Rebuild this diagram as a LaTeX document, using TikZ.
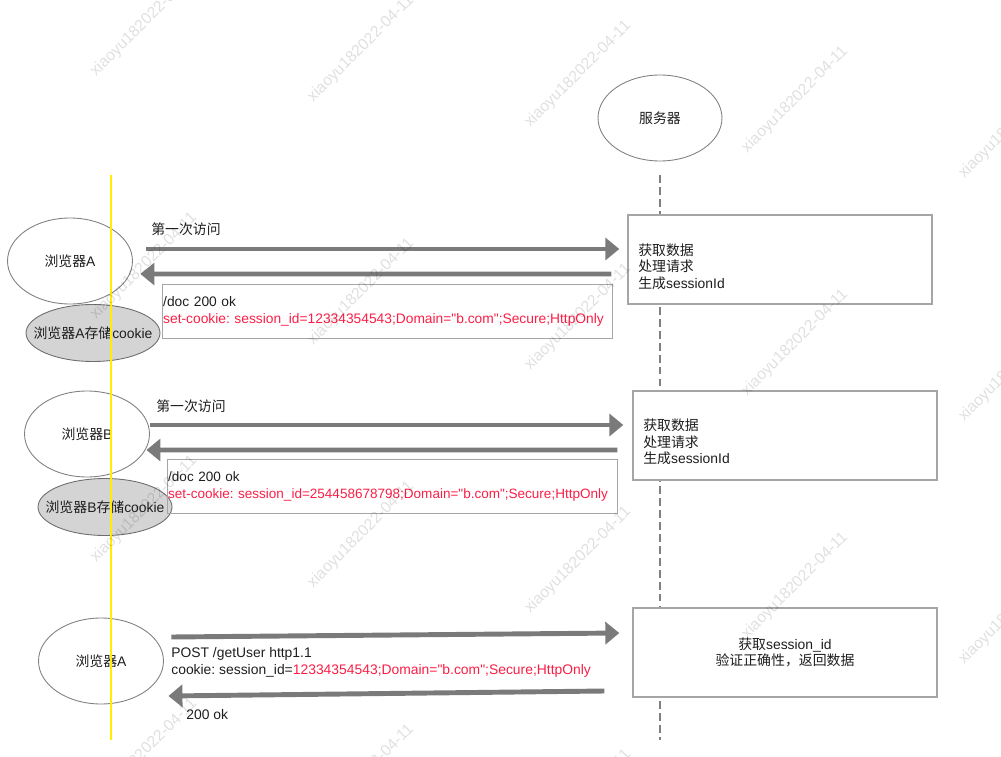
\documentclass[tikz,border=0pt]{standalone}
\usepackage{fontspec}
\newfontfamily\latinfont{Liberation Sans}
\newfontfamily\cjk{Noto Sans CJK SC}
\newcommand{\zh}[1]{{\cjk #1}}
\usetikzlibrary{arrows.meta, positioning, calc, shapes.geometric}
\definecolor{linegray}{RGB}{128,128,128}
\definecolor{boxgray}{RGB}{165,165,165}
\definecolor{arrowgray}{RGB}{122,122,122}
\definecolor{storefill}{RGB}{212,212,212}
\definecolor{cookiered}{RGB}{250,30,70}
\definecolor{markyellow}{RGB}{255,238,0}
\definecolor{textdark}{RGB}{30,30,30}

\begin{document}
\begin{tikzpicture}[
    x=0.02cm, y=-0.02cm,
    every node/.style={font=\latinfont\fontsize{7.9}{9.4}\selectfont\frenchspacing, text=textdark},
    actor/.style={
        ellipse,
        draw=linegray,
        line width=0.5pt,
        minimum width=2.5cm,
        minimum height=1.72cm,
        inner sep=0pt
    },
    store/.style={
        ellipse,
        draw=linegray!85!black,
        fill=storefill,
        line width=0.5pt,
        minimum width=2.68cm,
        minimum height=1.14cm,
        inner sep=0pt
    },
    procbox/.style={
        rectangle,
        draw=boxgray,
        line width=0.8pt,
        minimum width=6.08cm,
        minimum height=1.78cm
    },
    respbox/.style={
        rectangle,
        draw=boxgray,
        line width=0.8pt,
        minimum width=9cm,
        minimum height=1.08cm,
        text width=8.98cm,
        align=left,
        inner xsep=0.01cm,
        inner ysep=0pt,
        font=\latinfont\fontsize{7.85}{9.9}\selectfont\frenchspacing,
        execute at begin node={\hyphenpenalty=10000}
    },
    msgarrow/.style={
        draw=arrowgray,
        line width=2.8pt,
        -{Triangle[length=0.28cm, width=0.44cm]}
    },
    msglabel/.style={anchor=west, inner sep=0pt},
    lifeline/.style={draw=linegray, line width=0.6pt, dash pattern=on 4.5pt off 2.3pt},
    wmark/.style={
        anchor=base west,
        rotate=45,
        inner sep=0pt,
        font=\latinfont\fontsize{9}{9}\selectfont,
        text=black,
        text opacity=0.12
    }
]

\useasboundingbox (0,0) rectangle (1001,757);

% ==================== SERVER ====================

\node (srv) [actor, minimum width=2.48cm] at (660,118) {\zh{服务器}};
\coordinate (lifeend) at (660,740);
\draw [lifeline] ([shift={(0,14)}]srv.south) -- (lifeend);

% ==================== BROWSER A: FIRST VISIT ====================

\node (brA) [actor] at (70,261) {\zh{浏览器}A};
\node (storeA) [store] at (93,333) {\makebox[0pt]{\zh{浏览器}A\zh{存储}cookie}};
\node (srv1) [procbox, fill=white] at (780,259.5) {};
\node (srv1txt) [msglabel, align=left] at (638,266.5) {\zh{获取数据}\\\zh{处理请求}\\\zh{生成}sessionId};
\node (resp1) [respbox, anchor=north west] at (162,284) {/doc 200 ok\\\textcolor{cookiered}{set-cookie: session\_id=12334354543;Domain="b.com";Secure;HttpOnly}};
\node (visit1) [msglabel] at (151,229) {\zh{第一次访问}};

\draw [msgarrow] ([shift={(13.5,-12)}]brA.east) -- ([shift={(-8,-10.5)}]srv1.west);
\draw [msgarrow] ([shift={(-16,14.5)}]srv1.west) -- ([shift={(7.5,13)}]brA.east);

% ==================== BROWSER B: FIRST VISIT ====================

\node (brB) [actor] at (87,434) {\zh{浏览器}B};
\node (storeB) [store] at (105,507) {\makebox[0pt]{\zh{浏览器}B\zh{存储}cookie}};
\node (srv2) [procbox, fill=white] at (785,435.5) {};
\node (srv2txt) [msglabel, align=left] at (643,442) {\zh{获取数据}\\\zh{处理请求}\\\zh{生成}sessionId};
\node (resp2) [respbox, anchor=north west, font=\latinfont\fontsize{7.7}{9.7}\selectfont\frenchspacing] at (167,459) {/doc 200 ok\\\textcolor{cookiered}{set-cookie: session\_id=254458678798;Domain="b.com";Secure;HttpOnly}};
\node (visit2) [msglabel] at (156,406) {\zh{第一次访问}};

\draw [msgarrow] ([shift={(0.5,-9)}]brB.east) -- ([shift={(-9,-10.5)}]srv2.west);
\draw [msgarrow] ([shift={(-15,14.5)}]srv2.west) -- ([shift={(-3.5,16)}]brB.east);

% ==================== BROWSER A: SECOND VISIT ====================

\node (brA2) [actor] at (101,661) {\zh{浏览器}A};
\node (srv3) [procbox, fill=white, align=center] at (785,652.5) {\zh{获取}session\_id\\\zh{验证正确性，返回数据}};
\node (req3) [msglabel, align=left, font=\latinfont\fontsize{7.9}{9.7}\selectfont\frenchspacing] at (171,662.5) {POST /getUser http1.1\\cookie: session\_id=\textcolor{cookiered}{12334354543;Domain="b.com";Secure;HttpOnly}};
\node (ok3) [msglabel] at (186,715) {200 ok};

\draw [msgarrow] ([shift={(7.5,-24)}]brA2.east) -- ([shift={(-13,-19.5)}]srv3.west);
\draw [msgarrow] ([shift={(-28,38.5)}]srv3.west) -- ([shift={(4.5,35)}]brA2.east);

% marker line
\coordinate (marktop) at (111,175);
\coordinate (markbot) at (111,740);
\draw [draw=markyellow, line width=0.85pt] (marktop) -- (markbot);

% watermark tiles
\foreach \i in {0,...,4}
    \foreach \j in {0,...,3}
        \node (wm-\i-\j) [wmark] at ({96+217*\i},{77+25.5*\i+243*\j}) {xiaoyu182022-04-11};

\end{tikzpicture}
\end{document}
